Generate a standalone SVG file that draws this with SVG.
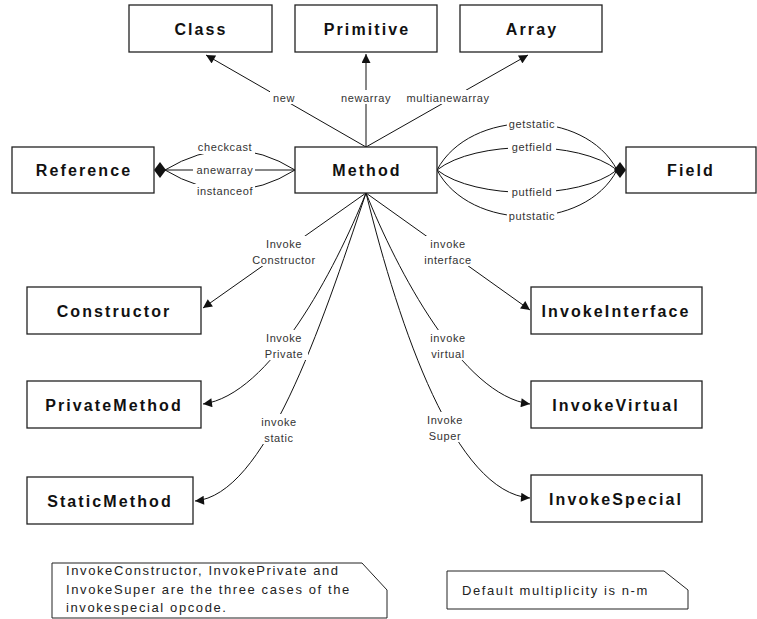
<svg xmlns="http://www.w3.org/2000/svg" width="757" height="619" viewBox="0 0 757 619">
  <style>
    .box { fill: #fff; stroke: #222; stroke-width: 1.3; }
    .name { font-family: "Liberation Sans", Arial, sans-serif; font-size: 16px; font-weight: bold; letter-spacing: 2.1px; fill: #111; text-anchor: middle; }
    .edge { fill: none; stroke: #111; stroke-width: 1; }
    .lbl { font-family: "Liberation Sans", Arial, sans-serif; font-size: 11px; letter-spacing: 0.6px; fill: #333; text-anchor: middle; }
    .bg { fill: #fff; }
    .note { fill: #fff; stroke: #222; stroke-width: 1; }
    .ntxt { font-family: "Liberation Sans", Arial, sans-serif; font-size: 13px; letter-spacing: 1.6px; fill: #222; }
  </style>
  <defs>
    <marker id="arrow" viewBox="0 0 10 10" refX="10" refY="5" markerWidth="10" markerHeight="9" markerUnits="userSpaceOnUse" orient="auto">
      <path d="M0,0 L10,5 L0,10 z" fill="#111"/>
    </marker>
  </defs>

  <rect width="757" height="619" fill="#fff"/>

  <!-- connectors -->
  <g id="connectors">
    <!-- creation opcodes -->
    <path class="edge" d="M366,147 L206,55" marker-end="url(#arrow)"/>
    <path class="edge" d="M366,147 L366,54" marker-end="url(#arrow)"/>
    <path class="edge" d="M366,147 L528,55" marker-end="url(#arrow)"/>
    <!-- reference opcodes -->
    <path class="edge" d="M295,170 Q231,130 165,170"/>
    <path class="edge" d="M295,170 L165,170"/>
    <path class="edge" d="M295,170 Q231,210 165,170"/>
    <polygon points="154,170 160,162 166,170 160,178" fill="#111"/>
    <!-- field opcodes -->
    <path class="edge" d="M437,170 C470,108 585,108 617,170"/>
    <path class="edge" d="M437,170 C475,140 580,140 617,170"/>
    <path class="edge" d="M437,170 C475,200 580,200 617,170"/>
    <path class="edge" d="M437,170 C470,232 585,232 617,170"/>
    <polygon points="614,170 620,162 626,170 620,178" fill="#111"/>
    <!-- invocation opcodes -->
    <path class="edge" d="M366,193 L203,308" marker-end="url(#arrow)"/>
    <path class="edge" d="M366,193 C335,270 270,395 203,404" marker-end="url(#arrow)"/>
    <path class="edge" d="M366,193 C320,330 265,495 195,501" marker-end="url(#arrow)"/>
    <path class="edge" d="M366,193 L530,310" marker-end="url(#arrow)"/>
    <path class="edge" d="M366,193 C397,270 462,395 530,404" marker-end="url(#arrow)"/>
    <path class="edge" d="M366,193 C400,330 455,492 530,498" marker-end="url(#arrow)"/>

    <!-- labels -->
    <rect class="bg" x="270" y="90" width="28" height="14"/>
    <text class="lbl" x="284" y="102">new</text>
    <rect class="bg" x="338" y="90" width="56" height="14"/>
    <text class="lbl" x="366" y="102">newarray</text>
    <rect class="bg" x="403" y="90" width="90" height="14"/>
    <text class="lbl" x="448" y="102">multianewarray</text>

    <rect class="bg" x="193" y="140" width="62" height="14"/>
    <text class="lbl" x="225" y="151">checkcast</text>
    <rect class="bg" x="193" y="163" width="62" height="14"/>
    <text class="lbl" x="225" y="174">anewarray</text>
    <rect class="bg" x="193" y="184" width="62" height="14"/>
    <text class="lbl" x="225" y="195">instanceof</text>

    <rect class="bg" x="507" y="117" width="50" height="14"/>
    <text class="lbl" x="532" y="128">getstatic</text>
    <rect class="bg" x="508" y="140" width="48" height="14"/>
    <text class="lbl" x="532" y="151">getfield</text>
    <rect class="bg" x="508" y="185" width="48" height="14"/>
    <text class="lbl" x="532" y="196">putfield</text>
    <rect class="bg" x="507" y="209" width="50" height="14"/>
    <text class="lbl" x="532" y="220">putstatic</text>

    <rect class="bg" x="250" y="236" width="66" height="30"/>
    <text class="lbl" x="284" y="248">Invoke</text>
    <text class="lbl" x="284" y="264">Constructor</text>
    <rect class="bg" x="260" y="330" width="48" height="30"/>
    <text class="lbl" x="284" y="342">Invoke</text>
    <text class="lbl" x="284" y="358">Private</text>
    <rect class="bg" x="258" y="414" width="42" height="30"/>
    <text class="lbl" x="279" y="426">invoke</text>
    <text class="lbl" x="279" y="442">static</text>

    <rect class="bg" x="422" y="236" width="52" height="30"/>
    <text class="lbl" x="448" y="248">invoke</text>
    <text class="lbl" x="448" y="264">interface</text>
    <rect class="bg" x="426" y="330" width="44" height="30"/>
    <text class="lbl" x="448" y="342">invoke</text>
    <text class="lbl" x="448" y="358">virtual</text>
    <rect class="bg" x="424" y="412" width="42" height="30"/>
    <text class="lbl" x="445" y="424">Invoke</text>
    <text class="lbl" x="445" y="440">Super</text>
  </g>

  <!-- nodes -->
  <g id="Class"><rect class="box" x="129" y="5" width="143" height="47"/><text class="name" x="201" y="35">Class</text></g>
  <g id="Primitive"><rect class="box" x="295" y="5" width="142" height="47"/><text class="name" x="367" y="35">Primitive</text></g>
  <g id="Array"><rect class="box" x="460" y="5" width="142" height="47"/><text class="name" x="532" y="35">Array</text></g>
  <g id="Reference"><rect class="box" x="12" y="147" width="142" height="46"/><text class="name" x="84" y="176">Reference</text></g>
  <g id="Method"><rect class="box" x="295" y="147" width="142" height="46"/><text class="name" x="367" y="176">Method</text></g>
  <g id="Field"><rect class="box" x="626" y="147" width="130" height="46"/><text class="name" x="691" y="176">Field</text></g>
  <g id="Constructor"><rect class="box" x="27" y="287" width="174" height="47"/><text class="name" x="114" y="317">Constructor</text></g>
  <g id="PrivateMethod"><rect class="box" x="27" y="381" width="174" height="47"/><text class="name" x="114" y="411">PrivateMethod</text></g>
  <g id="StaticMethod"><rect class="box" x="27" y="477" width="166" height="47"/><text class="name" x="110" y="507">StaticMethod</text></g>
  <g id="InvokeInterface"><rect class="box" x="531" y="287" width="171" height="47"/><text class="name" x="616" y="317">InvokeInterface</text></g>
  <g id="InvokeVirtual"><rect class="box" x="531" y="381" width="171" height="47"/><text class="name" x="616" y="411">InvokeVirtual</text></g>
  <g id="InvokeSpecial"><rect class="box" x="531" y="475" width="171" height="47"/><text class="name" x="616" y="505">InvokeSpecial</text></g>

  <!-- notes -->
  <g id="note-invokespecial">
    <path class="note" d="M52,563 L362,563 L387,590 L387,618 L52,618 Z"/>
    <text class="ntxt" x="66" y="575">InvokeConstructor, InvokePrivate and</text>
    <text class="ntxt" x="66" y="593.5">InvokeSuper are the three cases of the</text>
    <text class="ntxt" x="66" y="612">invokespecial opcode.</text>
  </g>
  <g id="note-multiplicity">
    <path class="note" d="M447,571 L664,571 L688,590 L688,609 L447,609 Z"/>
    <text class="ntxt" x="462" y="595">Default multiplicity is n-m</text>
  </g>
</svg>
